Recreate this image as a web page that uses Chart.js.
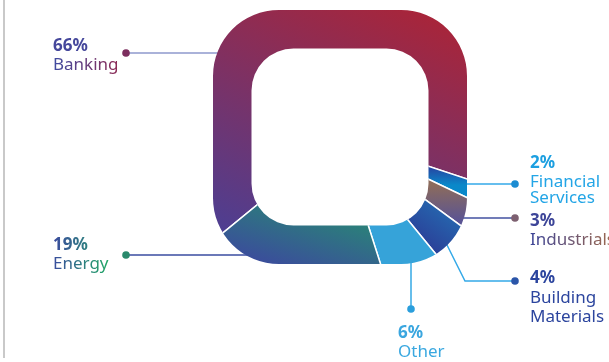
<!DOCTYPE html>
<html lang="en">
<head>
    <meta charset="UTF-8">
    <title>Portfolio by sector</title>
    <script src="https://cdn.jsdelivr.net/npm/chart.js@4"></script>
    <style>
        body {
            margin: 0;
            padding: 0;
            background: #fff;
            overflow: hidden;
        }
        #wrap {
            position: relative;
            width: 609px;
            height: 362px;
        }
        #wrap:before {
            content: '';
            position: absolute;
            left: 3px;
            top: 0;
            width: 2px;
            height: 358px;
            background: #c9c9c9;
        }
    </style>
</head>
<body>
    <div id="wrap">
        <canvas id="sectorChart" width="609" height="362"></canvas>
    </div>

    <script>
        // sector split, clockwise starting from the bottom-left edge
        const categories = ['Banking', 'Financial Services', 'Industrials', 'Building Materials', 'Other', 'Energy'];
        const shares = [66, 2, 3, 4, 6, 19];

        const FONT = "'Noto Sans', 'Open Sans', sans-serif";

        // rounded-square ring, relative to the chart centre
        const ring = {
            outerHalf: 127, outerR: 66,
            innerHalf: 88.5, innerR: 42
        };

        // label layout: text anchor, dot, leader path, colours
        const labelLayout = {
            'Banking': {
                x: 53, y: [51, 70], pctColor: '#45479b', textGrad: ['#3f4ca2', '#8d2b55'],
                dot: [126, 53], dotColor: '#7c2e5e', line: [[126, 53], [222, 53]], lineColor: '#8e98cc'
            },
            'Energy': {
                x: 53, y: [250, 269], pctGrad: ['#3b4a9e', '#2f8080'], textGrad: ['#3a4c9e', '#22a866'],
                dot: [126, 255], dotColor: '#2a8a6c', line: [[126, 255], [262, 255]], lineColor: '#3a4ca0'
            },
            'Financial Services': {
                x: 530, y: [168, 187, 203], pctColor: '#1c9fe0', textColor: '#23a5e6',
                dot: [515, 184], dotColor: '#1b8cd2', line: [[462, 184], [515, 184]], lineColor: '#33a9e8'
            },
            'Industrials': {
                x: 530, y: [226, 245], pctColor: '#3d4598', textGrad: ['#3d4598', '#a06a4c'],
                dot: [515, 218], dotColor: '#7d6070', line: [[458, 218], [515, 218]], lineColor: '#4250a0'
            },
            'Building Materials': {
                x: 530, y: [283, 303, 322], pctColor: '#2c459e', textColor: '#2c459e',
                dot: [515, 281], dotColor: '#2b55a8', line: [[446, 243], [465, 281], [515, 281]], lineColor: '#35a9e8'
            },
            'Other': {
                x: 398, y: [338, 357], pctColor: '#3aa6df', textColor: '#3aa8e0',
                dot: [411, 309], dotColor: '#2a9edc', line: [[411, 260], [411, 309]], lineColor: '#35a8e4'
            }
        };

        // gradient stops per slice, offsets from the centre
        const sliceGrad = {
            'Banking': [[60, -135], [-60, 130], ['#a8253a', '#4b3f94']],
            'Financial Services': [[0, 28], [0, 48], ['#2a3c9c', '#0a88c9']],
            'Industrials': [[0, 48], [0, 84], ['#8c6b5c', '#5a5493']],
            'Building Materials': [[115, 75], [85, 115], ['#2569b0', '#2b3c96']],
            'Other': null,
            'Energy': [[0, 80], [-20, 145], ['#2b807a', '#3b4c9c']]
        };
        const otherFill = '#36a3d9';

        function addRoundRect(ctx, x, y, w, h, r) {
            ctx.moveTo(x + r, y);
            ctx.lineTo(x + w - r, y);
            ctx.arcTo(x + w, y, x + w, y + r, r);
            ctx.lineTo(x + w, y + h - r);
            ctx.arcTo(x + w, y + h, x + w - r, y + h, r);
            ctx.lineTo(x + r, y + h);
            ctx.arcTo(x, y + h, x, y + h - r, r);
            ctx.lineTo(x, y + r);
            ctx.arcTo(x, y, x + r, y, r);
            ctx.closePath();
        }

        function centreOf(chart) {
            const a = chart.chartArea;
            return [(a.left + a.right) / 2, (a.top + a.bottom) / 2];
        }

        function sliceFill(context) {
            const chart = context.chart;
            if (!chart.chartArea) return otherFill;
            const name = categories[context.dataIndex];
            const g = sliceGrad[name];
            if (!g) return otherFill;
            const [cx, cy] = centreOf(chart);
            const grad = chart.ctx.createLinearGradient(cx + g[0][0], cy + g[0][1], cx + g[1][0], cy + g[1][1]);
            grad.addColorStop(0, g[2][0]);
            grad.addColorStop(1, g[2][1]);
            return grad;
        }

        function hGrad(ctx, x, w, stops) {
            const grad = ctx.createLinearGradient(x, 0, x + w, 0);
            grad.addColorStop(0, stops[0]);
            grad.addColorStop(1, stops[1]);
            return grad;
        }

        const leaderPlugin = {
            id: 'leaders',
            beforeDatasetsDraw(chart) {
                const ctx = chart.ctx;
                ctx.save();
                categories.forEach(name => {
                    const l = labelLayout[name];
                    ctx.beginPath();
                    ctx.strokeStyle = l.lineColor;
                    ctx.lineWidth = 1.5;
                    l.line.forEach((p, i) => i ? ctx.lineTo(p[0], p[1]) : ctx.moveTo(p[0], p[1]));
                    ctx.stroke();
                    ctx.beginPath();
                    ctx.fillStyle = l.dotColor;
                    ctx.arc(l.dot[0], l.dot[1], 3.8, 0, Math.PI * 2);
                    ctx.fill();
                });
                ctx.restore();
            }
        };

        const ringClip = {
            id: 'ringClip',
            beforeDatasetsDraw(chart) {
                const ctx = chart.ctx;
                const [cx, cy] = centreOf(chart);
                ctx.save();
                ctx.beginPath();
                addRoundRect(ctx, cx - ring.outerHalf, cy - ring.outerHalf, ring.outerHalf * 2, ring.outerHalf * 2, ring.outerR);
                addRoundRect(ctx, cx - ring.innerHalf, cy - ring.innerHalf, ring.innerHalf * 2, ring.innerHalf * 2, ring.innerR);
                ctx.clip('evenodd');
            },
            afterDatasetsDraw(chart) {
                chart.ctx.restore();
            }
        };

        const labelPlugin = {
            id: 'sectorLabels',
            afterDraw(chart) {
                const ctx = chart.ctx;
                ctx.save();
                ctx.textAlign = 'left';
                ctx.textBaseline = 'alphabetic';
                categories.forEach((name, i) => {
                    const l = labelLayout[name];
                    const pct = shares[i] + '%';
                    ctx.font = 'bold 17px ' + FONT;
                    const pw = ctx.measureText(pct).width;
                    ctx.fillStyle = l.pctGrad ? hGrad(ctx, l.x, pw, l.pctGrad) : l.pctColor;
                    ctx.fillText(pct, l.x, l.y[0]);

                    ctx.font = '17px ' + FONT;
                    const words = name.split(' ');
                    words.forEach((w, j) => {
                        const tw = ctx.measureText(w).width;
                        ctx.fillStyle = l.textGrad ? hGrad(ctx, l.x, tw, l.textGrad) : l.textColor;
                        ctx.fillText(w, l.x, l.y[j + 1]);
                    });
                });
                ctx.restore();
            }
        };

        new Chart(document.getElementById('sectorChart').getContext('2d'), {
            type: 'pie',
            data: {
                labels: categories,
                datasets: [{
                    data: shares,
                    backgroundColor: sliceFill,
                    borderColor: '#ffffff',
                    borderWidth: 1.5
                }]
            },
            options: {
                responsive: false,
                animation: false,
                rotation: 230.7,
                radius: 180,
                layout: {
                    padding: { left: 180, right: 109, top: 0, bottom: 88 }
                },
                plugins: {
                    legend: { display: false },
                    tooltip: { enabled: false }
                }
            },
            plugins: [leaderPlugin, ringClip, labelPlugin]
        });
    </script>
</body>
</html>
